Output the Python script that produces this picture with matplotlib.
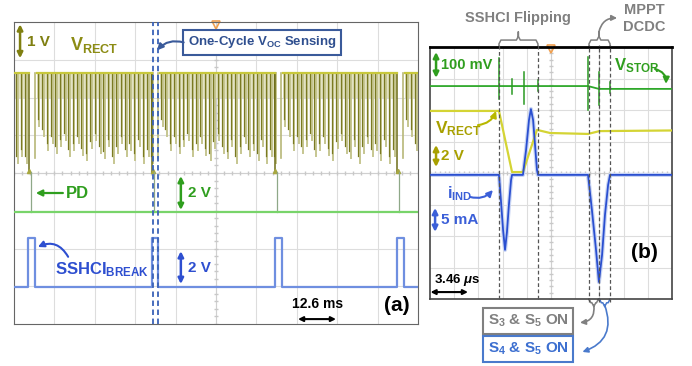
import numpy as np
import matplotlib.pyplot as plt

plt.rcParams['font.family'] = ['Liberation Sans', 'DejaVu Sans']
plt.rcParams['font.weight'] = 'bold'
plt.rcParams['mathtext.fontset'] = 'custom'
plt.rcParams['mathtext.rm'] = 'Liberation Sans:bold'
plt.rcParams['mathtext.bf'] = 'Liberation Sans:bold'
plt.rcParams['mathtext.it'] = 'Liberation Sans:bold:italic'

# ---------- panel (a) data (scope divisions, 10 x 8) ----------
break_t = [0.42, 3.47, 6.51, 9.54]          # SSHCI break / PD instants
vrect_top = 6.64
vrect_floor = 4.0
spike_dt = 0.108
spike_depth = [5.32, 5.05, 4.68, 4.87, 4.60, 4.79, 4.95, 4.52, 4.68, 4.87,
               4.55, 4.42, 4.74, 4.95, 4.60, 4.47, 4.79, 4.34, 4.60, 4.87,
               4.52, 4.68, 4.42, 4.79, 4.34, 4.52, 4.34]
pd_base = 2.96
pd_peak = 4.02
brk_low = 0.98
brk_high = 2.28
brk_rise = [0.35, 3.42, 6.46, 9.48]
brk_fall = [0.52, 3.56, 6.63, 9.65]
voc_marks = [3.44, 3.56]

# ---------- panel (b) data ----------
stor_base_x = [0, 6.53, 6.98, 10]
stor_base_y = [6.76, 6.76, 6.67, 6.67]
stor_x = [2.85, 3.39, 3.88, 4.46, 6.53, 6.98, 7.44]
stor_hi = [7.65, 7.00, 7.20, 6.95, 7.68, 7.20, 6.90]
stor_lo = [6.35, 6.50, 6.20, 6.60, 6.00, 6.16, 6.55]
rect_x = [0, 2.85, 3.39, 3.84, 4.42, 4.96, 6.53, 7.0, 10]
rect_y = [5.97, 5.97, 4.03, 4.03, 5.37, 5.27, 5.24, 5.33, 5.35]
ind_x = [0, 2.85, 2.93, 3.02, 3.10, 3.18, 3.26, 3.35, 3.39, 3.84, 3.97, 4.09,
         4.17, 4.26, 4.34, 4.42, 4.46, 6.53, 6.69, 6.86, 6.98, 7.11, 7.23,
         7.36, 7.44, 10]
ind_y = [3.94, 3.94, 3.14, 2.19, 1.56, 2.13, 2.98, 3.78, 3.94, 3.94, 4.73, 5.68,
         6.03, 5.68, 4.89, 4.10, 3.94, 3.94, 2.83, 1.56, 0.54, 1.40, 2.67,
         3.62, 3.94, 3.94]
flip_marks = [2.85, 4.46]
dcdc_marks = [6.57, 6.98, 7.44]

OLIVE = '#8c8c14'
GREEN = '#2f9e1e'
BLUE = '#2e4fd0'
GRAY = '#808080'

fig = plt.figure(figsize=(6.92, 3.66), dpi=100)
ax_a = fig.add_axes([14/692, 1-324/366, 404/692, 302/366])
ax_b = fig.add_axes([430/692, 1-299/366, 242/692, 252/366])


def scope_grid(ax):
    ax.set_xlim(0, 10)
    ax.set_ylim(0, 8)
    ax.set_xticks([])
    ax.set_yticks([])
    for i in range(1, 10):
        ax.axvline(i, color='#dddddd', lw=0.8, zorder=0)
    for j in range(1, 8):
        ax.axhline(j, color='#dddddd', lw=0.8, zorder=0)
    ax.axvline(5, color='#d0d0d0', lw=0.8, zorder=0)
    ax.axhline(4, color='#d0d0d0', lw=0.8, zorder=0)
    ax.plot(np.full(41, 5.0), np.linspace(0, 8, 41), ls='none', marker='_',
            ms=3, color='#c8c8c8', zorder=0)
    ax.plot(np.linspace(0, 10, 51), np.full(51, 4.0), ls='none', marker='|',
            ms=3, color='#c8c8c8', zorder=0)
    ax.plot([5], [7.93], marker='v', ms=6, mfc='none', mec='#f0a050', mew=1.2,
            clip_on=False)


scope_grid(ax_a)
scope_grid(ax_b)
for s in ax_a.spines.values():
    s.set_color('#666666')
for s in ax_b.spines.values():
    s.set_color('#444444')
    s.set_linewidth(1.2)
ax_b.spines['top'].set_color('black')
ax_b.spines['top'].set_linewidth(2)

# ---------- panel (a) traces ----------
seg_start = [0.03] + [t + 0.14 for t in break_t]
seg_end = [t - 0.06 for t in break_t] + [10]
for k, (s0, s1) in enumerate(zip(seg_start, seg_end)):
    ax_a.fill_between([s0, s1], 6.0, vrect_top, color='#e2e2c2', lw=0, zorder=1)
    ax_a.plot([s0, s1], [vrect_top, vrect_top], color='#c8c83c', lw=1.6, zorder=3)
    ts = np.arange(s0 + 0.03, s1, spike_dt)
    off = len(spike_depth) - len(ts) if k == 0 else 0
    for i, t in enumerate(ts):
        d = spike_depth[(i + off) % len(spike_depth)]
        ax_a.plot([t + 0.04, t + 0.04], [vrect_top, d - 0.08], color='#c6c690',
                  lw=1.4, zorder=2)
        ax_a.plot([t, t], [vrect_top, d + 0.12], color='#7a7a22', lw=0.9, zorder=2)
for t in break_t:
    ax_a.plot([t - 0.06, t - 0.06], [vrect_top, vrect_floor], color='#6e6e18',
              lw=1.1, zorder=2)
    ax_a.plot([t + 0.1, t + 0.1], [vrect_top, vrect_floor + 0.4], color='#b8b878',
              lw=1.2, zorder=2)
    ax_a.plot([t - 0.04], [vrect_floor + 0.05], marker='^', ms=3, color='#a8a840')

# PD
ax_a.plot([0, 10], [pd_base, pd_base], color='#78d46a', lw=1.6, zorder=3)
for t in break_t:
    ax_a.plot([t, t], [pd_base, pd_peak], color='#8fa888', lw=0.9, zorder=2)

# SSHCI break
bx = [0]
by = [brk_low]
for r, f in zip(brk_rise, brk_fall):
    bx += [r, r, f, f]
    by += [brk_low, brk_high, brk_high, brk_low]
bx.append(10)
by.append(brk_low)
ax_a.plot(bx, by, color='#6f8fe0', lw=1.6, zorder=3)

for m in voc_marks:
    ax_a.axvline(m, color='#3a62b8', lw=1.3, ls=(0, (3, 2)), zorder=4)

# ---------- panel (a) labels ----------
def dbl_arrow(ax, x, y0, y1, color):
    ax.annotate('', xy=(x, y1), xytext=(x, y0),
                arrowprops=dict(arrowstyle='<|-|>', color=color, lw=1.8,
                                mutation_scale=8, shrinkA=0, shrinkB=0))


dbl_arrow(ax_a, 0.15, 7.04, 7.94, '#7f7f10')
ax_a.text(0.32, 7.46, '1 V', color='#7f7f10', fontsize=11, va='center')
ax_a.text(1.39, 7.40, r'V$_{\mathbf{RECT}}$', color=OLIVE, fontsize=13, va='center')
ax_a.text(6.14, 7.46, r'One-Cycle V$_{\mathbf{OC}}$ Sensing', color='#2f4f8f',
          fontsize=9.5, ha='center', va='center',
          bbox=dict(boxstyle='square,pad=0.35', fc='white', ec='#3a5a9a', lw=1.5))
ax_a.annotate('', xy=(3.54, 7.25), xytext=(4.2, 7.46),
              arrowprops=dict(arrowstyle='-|>', color='#3a5a9a', lw=1.5,
                              mutation_scale=9, shrinkA=0, shrinkB=0,
                              connectionstyle='arc3,rad=0.3'))

ax_a.annotate('', xy=(0.54, 3.47), xytext=(1.21, 3.47),
              arrowprops=dict(arrowstyle='-|>', color=GREEN, lw=1.6,
                              mutation_scale=9, shrinkA=0, shrinkB=0))
ax_a.text(1.29, 3.47, 'PD', color=GREEN, fontsize=12, va='center')
dbl_arrow(ax_a, 4.13, 3.02, 3.92, GREEN)
ax_a.text(4.31, 3.47, '2 V', color=GREEN, fontsize=11, va='center')

ax_a.text(1.01, 1.45, r'SSHCI$_{\mathbf{BREAK}}$', color=BLUE, fontsize=12, va='center')
ax_a.annotate('', xy=(0.59, 2.04), xytext=(1.34, 1.78),
              arrowprops=dict(arrowstyle='-|>', color=BLUE, lw=1.5,
                              mutation_scale=9, shrinkA=0, shrinkB=0,
                              connectionstyle='arc3,rad=0.45'))
dbl_arrow(ax_a, 4.13, 1.06, 1.93, BLUE)
ax_a.text(4.31, 1.48, '2 V', color=BLUE, fontsize=11, va='center')

ax_a.text(7.52, 0.53, '12.6 ms', color='black', fontsize=10, ha='center', va='center')
ax_a.annotate('', xy=(7.97, 0.13), xytext=(7.03, 0.13),
              arrowprops=dict(arrowstyle='<|-|>', color='black', lw=1.5,
                              mutation_scale=7, shrinkA=0, shrinkB=0))
ax_a.text(9.48, 0.48, '(a)', color='black', fontsize=15, ha='center', va='center')

# ---------- panel (b) traces ----------
ax_b.plot(stor_base_x, stor_base_y, color='#2ea82a', lw=1.3, zorder=3)
for x, hi, lo in zip(stor_x, stor_hi, stor_lo):
    ax_b.plot([x, x], [lo, hi], color='#2a9a22', lw=1.1, zorder=3)
ax_b.plot(rect_x, rect_y, color='#d4d434', lw=1.6, zorder=3)
ax_b.plot(ind_x, ind_y, color='#c8d4f4', lw=3, zorder=2)
ax_b.plot(ind_x, ind_y, color='#2a4fd0', lw=1.3, zorder=3)

for m in flip_marks + dcdc_marks:
    y_lo = -0.1 if m in dcdc_marks else 0
    ax_b.plot([m, m], [y_lo, 8.05], color='#555555', lw=0.9, ls=(0, (3, 2)),
              clip_on=False, zorder=4)


def brace(ax, x0, x1, xm, yb, yt, ytip, color, up=True):
    r = 0.12 if up else -0.12
    xs = [x0, x0, x0 + 0.08, xm - 0.08, xm, xm, xm, xm + 0.08, x1 - 0.08, x1, x1]
    ys = [yb, yt - r, yt, yt, yt + r, ytip, yt + r, yt, yt, yt - r, yb]
    ax.plot(xs, ys, color=color, lw=1.1, clip_on=False)


brace(ax_b, 2.85, 4.46, 3.65, 8.03, 8.22, 8.48, GRAY)
brace(ax_b, 6.57, 7.44, 6.98, 8.03, 8.22, 8.48, GRAY)
ax_b.text(3.64, 8.92, 'SSHCI Flipping', color=GRAY, fontsize=10.5, ha='center',
          va='center')
ax_b.text(8.84, 9.17, 'MPPT', color=GRAY, fontsize=10.5, ha='center', va='center')
ax_b.text(8.84, 8.63, 'DCDC', color=GRAY, fontsize=10.5, ha='center', va='center')
ax_b.annotate('', xy=(7.73, 8.92), xytext=(6.98, 8.48), annotation_clip=False,
              arrowprops=dict(arrowstyle='-|>', color=GRAY, lw=1.2,
                              mutation_scale=8, shrinkA=0, shrinkB=0,
                              connectionstyle='arc3,rad=-0.4'))

brace(ax_b, 6.57, 6.96, 6.77, -0.02, -0.12, -0.2, GRAY, up=False)
brace(ax_b, 7.0, 7.44, 7.22, -0.02, -0.12, -0.2, '#4a7acc', up=False)
ax_b.text(4.05, -0.70, r'S$_3$ & S$_5$ ON', color=GRAY, fontsize=11, ha='center',
          va='center', bbox=dict(boxstyle='square,pad=0.32', fc='white', ec=GRAY, lw=1.5))
ax_b.text(4.05, -1.59, r'S$_4$ & S$_5$ ON', color='#3c6fd0', fontsize=11, ha='center',
          va='center', bbox=dict(boxstyle='square,pad=0.32', fc='white', ec='#4a7acc', lw=1.5))
ax_b.annotate('', xy=(6.2, -0.75), xytext=(6.77, -0.2), annotation_clip=False,
              arrowprops=dict(arrowstyle='-|>', color=GRAY, lw=1.2,
                              mutation_scale=8, shrinkA=0, shrinkB=0,
                              connectionstyle='arc3,rad=-0.5'))
ax_b.annotate('', xy=(6.3, -1.68), xytext=(7.22, -0.2), annotation_clip=False,
              arrowprops=dict(arrowstyle='-|>', color='#4a7acc', lw=1.2,
                              mutation_scale=8, shrinkA=0, shrinkB=0,
                              connectionstyle='arc3,rad=-0.5'))

# ---------- panel (b) labels ----------
dbl_arrow(ax_b, 0.25, 7.02, 7.84, GREEN)
ax_b.text(0.45, 7.43, '100 mV', color=GREEN, fontsize=10.5, va='center')
ax_b.text(7.6, 7.40, r'V$_{\mathbf{STOR}}$', color=GREEN, fontsize=12, va='center')
ax_b.annotate('', xy=(9.75, 6.83), xytext=(9.3, 7.3),
              arrowprops=dict(arrowstyle='-|>', color=GREEN, lw=1.5,
                              mutation_scale=9, shrinkA=0, shrinkB=0,
                              connectionstyle='arc3,rad=-0.4'))
ax_b.text(0.21, 5.40, r'V$_{\mathbf{RECT}}$', color='#a8a000', fontsize=12.5, va='center')
ax_b.annotate('', xy=(2.73, 5.97), xytext=(1.98, 5.52),
              arrowprops=dict(arrowstyle='-|>', color='#b8b800', lw=1.5,
                              mutation_scale=9, shrinkA=0, shrinkB=0,
                              connectionstyle='arc3,rad=0.3'))
dbl_arrow(ax_b, 0.25, 4.19, 4.89, '#a8a000')
ax_b.text(0.45, 4.54, '2 V', color='#a8a000', fontsize=11, va='center')
ax_b.text(0.70, 3.33, r'i$_{\mathbf{IND}}$', color='#3b5fd8', fontsize=11.5, va='center')
ax_b.annotate('', xy=(2.6, 3.46), xytext=(1.65, 3.24),
              arrowprops=dict(arrowstyle='-|>', color='#3b5fd8', lw=1.5,
                              mutation_scale=9, shrinkA=0, shrinkB=0,
                              connectionstyle='arc3,rad=0.3'))
dbl_arrow(ax_b, 0.21, 2.13, 2.89, '#3b5fd8')
ax_b.text(0.45, 2.51, '5 mA', color='#3b5fd8', fontsize=11, va='center')
ax_b.text(8.88, 1.49, '(b)', color='black', fontsize=15, ha='center', va='center')
ax_b.text(0.17, 0.60, r'3.46 $\mathit{\mu}$s', color='black', fontsize=9.5, va='center')
ax_b.annotate('', xy=(1.57, 0.22), xytext=(0.02, 0.22),
              arrowprops=dict(arrowstyle='<|-|>', color='black', lw=1.5,
                              mutation_scale=7, shrinkA=0, shrinkB=0))

fig.savefig('out.png', dpi=100)
